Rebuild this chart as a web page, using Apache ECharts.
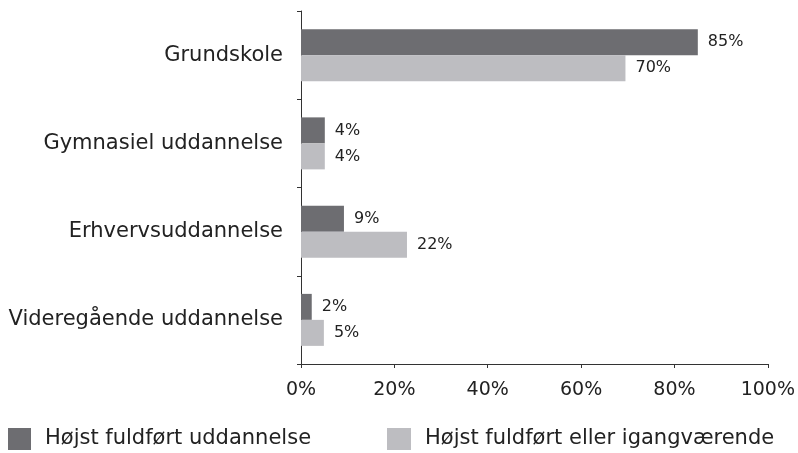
<!DOCTYPE html>
<html>
<head>
<meta charset="utf-8">
<script src="https://cdn.jsdelivr.net/npm/echarts@6/dist/echarts.min.js"></script>
<style>html,body{margin:0;padding:0;background:#fff;}#c{width:798px;height:453px;}</style>
</head>
<body>
<div id="c"></div>
<script>
var categories = ['Grundskole', 'Gymnasiel uddannelse', 'Erhvervsuddannelse', 'Videregående uddannelse'];
var seriesNames = ['Højst fuldført uddannelse', 'Højst fuldført eller igangværende'];
// bar lengths
var completed = [85, 5.1, 9.2, 2.3];
var completedOrOngoing = [69.5, 5.1, 22.7, 4.9];
// printed value labels
var completedLabels = ['85%', '4%', '9%', '2%'];
var completedOrOngoingLabels = ['70%', '4%', '22%', '5%'];
var xTicks = [0, 20, 40, 60, 80, 100];

var font = 'DejaVu Sans';
var chart = echarts.init(document.getElementById('c'), null, {renderer: 'canvas'});
chart.setOption({
  animation: false,
  textStyle: {fontFamily: font},
  grid: {left: 301, right: 28, top: 11, bottom: 89, containLabel: false},
  legend: [
    {data: [seriesNames[0]], left: 8, top: 428, padding: 0, itemWidth: 23, itemHeight: 22, itemGap: 0, icon: 'rect',
     textStyle: {fontFamily: font, fontSize: 21, color: '#222', padding: [0, 0, 0, 9]}},
    {data: [seriesNames[1]], left: 387, top: 428, padding: 0, itemWidth: 24, itemHeight: 22, itemGap: 0, icon: 'rect',
     textStyle: {fontFamily: font, fontSize: 21, color: '#222', padding: [0, 0, 0, 9]}}
  ],
  xAxis: {
    type: 'value', min: xTicks[0], max: xTicks[xTicks.length - 1], interval: 20,
    axisLine: {show: true, lineStyle: {color: '#333', width: 1}},
    axisTick: {show: true, length: 4, lineStyle: {color: '#333'}},
    splitLine: {show: false},
    axisLabel: {formatter: '{value}%', fontFamily: font, fontSize: 19, color: '#222', margin: 17}
  },
  yAxis: {
    type: 'category', data: categories, inverse: true,
    axisLine: {show: true, lineStyle: {color: '#333', width: 1}},
    axisTick: {show: true, length: 4, lineStyle: {color: '#333'}},
    axisLabel: {fontFamily: font, fontSize: 21, color: '#222', margin: 18}
  },
  series: [
    {name: seriesNames[0], type: 'bar', data: completed, barWidth: 26, barGap: '0%',
     itemStyle: {color: '#6d6d71'},
     label: {show: true, position: 'right', distance: 10, formatter: function (p) { return completedLabels[p.dataIndex]; },
       fontFamily: font, fontSize: 16, color: '#222'}},
    {name: seriesNames[1], type: 'bar', data: completedOrOngoing, barWidth: 26, barGap: '0%',
     itemStyle: {color: '#bdbdc1'},
     label: {show: true, position: 'right', distance: 10, formatter: function (p) { return completedOrOngoingLabels[p.dataIndex]; },
       fontFamily: font, fontSize: 16, color: '#222'}}
  ]
});
</script>
</body>
</html>
